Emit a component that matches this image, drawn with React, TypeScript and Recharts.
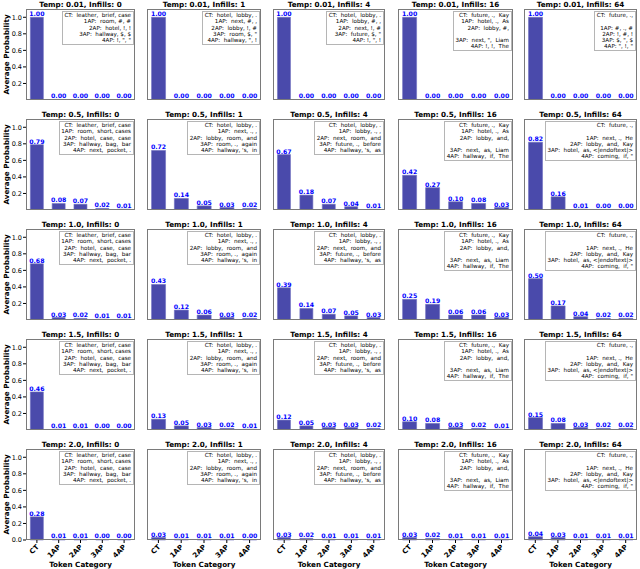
import { BarChart, Bar, XAxis, YAxis, LabelList } from "recharts";

const categories = ["CT", "1AP", "2AP", "3AP", "4AP"];
const temps = ["0.01", "0.5", "1.0", "1.5", "2.0"];
const infills = [0, 1, 4, 16, 64];

// average probability per token category, one row per temperature, one list per infill count
const probsTemp001 = [
  [1.0, 0.0, 0.0, 0.0, 0.0],
  [1.0, 0.0, 0.0, 0.0, 0.0],
  [1.0, 0.0, 0.0, 0.0, 0.0],
  [1.0, 0.0, 0.0, 0.0, 0.0],
  [1.0, 0.0, 0.0, 0.0, 0.0],
];
const probsTemp05 = [
  [0.79, 0.08, 0.07, 0.02, 0.01],
  [0.72, 0.14, 0.05, 0.03, 0.02],
  [0.67, 0.18, 0.07, 0.04, 0.01],
  [0.42, 0.27, 0.1, 0.08, 0.03],
  [0.82, 0.16, 0.01, 0.0, 0.0],
];
const probsTemp10 = [
  [0.68, 0.03, 0.02, 0.01, 0.01],
  [0.43, 0.12, 0.06, 0.03, 0.02],
  [0.39, 0.14, 0.07, 0.05, 0.03],
  [0.25, 0.19, 0.06, 0.06, 0.03],
  [0.5, 0.17, 0.04, 0.02, 0.02],
];
const probsTemp15 = [
  [0.46, 0.01, 0.01, 0.0, 0.0],
  [0.13, 0.05, 0.03, 0.02, 0.01],
  [0.12, 0.05, 0.03, 0.03, 0.02],
  [0.1, 0.08, 0.03, 0.02, 0.01],
  [0.15, 0.08, 0.03, 0.02, 0.02],
];
const probsTemp20 = [
  [0.28, 0.01, 0.01, 0.0, 0.0],
  [0.03, 0.01, 0.01, 0.01, 0.0],
  [0.03, 0.02, 0.01, 0.01, 0.01],
  [0.03, 0.02, 0.01, 0.01, 0.01],
  [0.04, 0.03, 0.01, 0.01, 0.01],
];
const probs = [probsTemp001, probsTemp05, probsTemp10, probsTemp15, probsTemp20];

// top tokens per category (temp 0.01 row, then the other rows)
const tokensLowTemp = [
  ["CT:  leather,  brief, case", "1AP:  room, #, #", "2AP:  hotel, !, !", "3AP:  hallway, $, $", "4AP: !, \", \""],
  ["CT:  hotel,  lobby, .", "1AP:  next, #, ,", "2AP:  lobby, !, #", "3AP:  room, $, \"", "4AP:  hallway, \", !"],
  ["CT:  hotel,  lobby, .", "1AP:  lobby, #, ,", "2AP:  next, !, #", "3AP:  future, $, \"", "4AP: !, \", !"],
  ["CT:  future, .,  Kay", "1AP:  hotel, .,  As", "2AP:  lobby, #,", "", "3AP:  next, \",  Liam", "4AP: !, !,  The"],
  ["CT:  future, .,", "", "1AP: #, ., #", "2AP: !, #, !", "3AP: $, \", $", "4AP: \", !, \""],
];
const tokensHighTemp = [
  ["CT:  leather,  brief, case", "1AP:  room,  short, cases", "2AP:  hotel,  case,  case", "3AP:  hallway,  bag,  bar", "4AP:  next,  pocket, ."],
  ["CT:  hotel,  lobby, .", "1AP:  next, ., ,", "2AP:  lobby,  room,  and", "3AP:  room, .,  again", "4AP:  hallway, 's,  in"],
  ["CT:  hotel,  lobby, .", "1AP:  lobby, ., ,", "2AP:  next,  room,  and", "3AP:  future, .,  before", "4AP:  hallway, 's,  as"],
  ["CT:  future, .,  Kay", "1AP:  hotel, .,  As", "2AP:  lobby,  and,", "", "3AP:  next,  as,  Liam", "4AP:  hallway,  if,  The"],
  ["CT:  future, .,", "", "1AP:  next, .,  He", "2AP:  lobby,  and,  Kay", "3AP:  hotel,  as, <|endoftext|>", "4AP:  coming,  if, \""],
];

const colX = [26, 147, 273, 398, 524];
const plotW = [109, 114, 112, 115, 113];
const rowY = [9, 119, 229, 339, 449];
const plotH = 91;
const titleH = 9;
const yAxisW = 26;
const xAxisH = 29;
const font = "'DejaVu Sans', sans-serif";
const barColor = "#4a4aab";

const XTick = (props: any) => {
  const { x, y, payload } = props;
  const ax = x - 1;
  const ay = y - 1;
  return (
    <text
      x={ax}
      y={ay}
      transform={`rotate(-45 ${ax} ${ay})`}
      textAnchor="end"
      dominantBaseline="hanging"
      fontSize={7}
      fontWeight="bold"
      fill="#000"
      fontFamily={font}
    >
      {payload.value}
    </text>
  );
};

const Panel = ({ row, col }: { row: number; col: number }) => {
  const data = categories.map((cat, i) => ({ cat, p: probs[row][col][i] }));
  const showY = col === 0;
  const showX = row === 4;
  const yw = showY ? yAxisW : 0;
  const w = plotW[col] + yw;
  const h = plotH + (showX ? xAxisH : 0);
  const lines = row === 0 ? tokensLowTemp[col] : tokensHighTemp[col];
  return (
    <div style={{ position: "absolute", left: colX[col] - yw, top: rowY[row] - titleH, width: w }}>
      <div
        style={{
          marginLeft: yw,
          width: plotW[col],
          height: titleH,
          lineHeight: `${titleH}px`,
          textAlign: "center",
          fontSize: 7.2,
          fontWeight: "bold",
          fontFamily: font,
          whiteSpace: "nowrap",
        }}
      >
        {`Temp: ${temps[row]}, Infills: ${infills[col]}`}
      </div>
      <div style={{ position: "relative" }}>
        <BarChart width={w} height={h} data={data} margin={{ top: 0, right: 0, bottom: 0, left: 0 }} barCategoryGap="20%">
          <XAxis
            dataKey="cat"
            hide={!showX}
            height={xAxisH}
            padding={{ left: 0, right: 0 }}
            axisLine={false}
            tickSize={3}
            tickLine={{ stroke: "#000" }}
            tick={<XTick />}
            interval={0}
            label={{
              value: "Token Category",
              position: "insideBottom",
              offset: 2,
              style: { fontSize: 7.2, fontWeight: "bold", fill: "#000", fontFamily: font },
            }}
          />
          <YAxis
            hide={!showY}
            domain={[0, 1.1]}
            ticks={[0, 0.2, 0.4, 0.6, 0.8, 1.0]}
            tickFormatter={(v: number) => v.toFixed(1)}
            width={yAxisW}
            axisLine={false}
            tickSize={3}
            tickMargin={1}
            tickLine={{ stroke: "#000" }}
            tick={{ fontSize: 6.5, fill: "#000", fontFamily: font }}
            label={{
              value: "Average Probability",
              angle: -90,
              position: "insideLeft",
              offset: 6,
              style: { textAnchor: "middle", fontSize: 7.2, fontWeight: "bold", fill: "#000", fontFamily: font },
            }}
          />
          <Bar dataKey="p" fill={barColor} stroke="#6f6fbf" strokeWidth={0.6} minPointSize={0.6} isAnimationActive={false}>
            <LabelList
              dataKey="p"
              position="top"
              offset={1}
              formatter={(v: any) => Number(v).toFixed(2)}
              style={{ fontSize: 6.2, fontWeight: "bold", fill: "#0000ff", stroke: "none", fontFamily: font }}
            />
          </Bar>
        </BarChart>
        <div
          style={{
            position: "absolute",
            left: yw,
            top: 0,
            width: plotW[col],
            height: plotH,
            border: "1.2px solid #7a7a7a",
            boxSizing: "border-box",
            pointerEvents: "none",
          }}
        />
        <div
          style={{
            position: "absolute",
            right: 1.5,
            top: 1.5,
            background: "#fff",
            border: "0.8px solid #b5b5b5",
            padding: "0.5px 1.5px",
            fontSize: 5.6,
            lineHeight: "6.3px",
            fontFamily: font,
            textAlign: "right",
            whiteSpace: "pre",
          }}
        >
          {lines.map((l, i) => (
            <div key={i}>{l === "" ? " " : l}</div>
          ))}
        </div>
      </div>
    </div>
  );
};

export default function App() {
  return (
    <div style={{ position: "absolute", left: 0, top: 0, width: 640, height: 569, background: "#fff", overflow: "hidden" }}>
      {temps.map((_, r) => infills.map((__, c) => <Panel key={`${r}-${c}`} row={r} col={c} />))}
    </div>
  );
}
